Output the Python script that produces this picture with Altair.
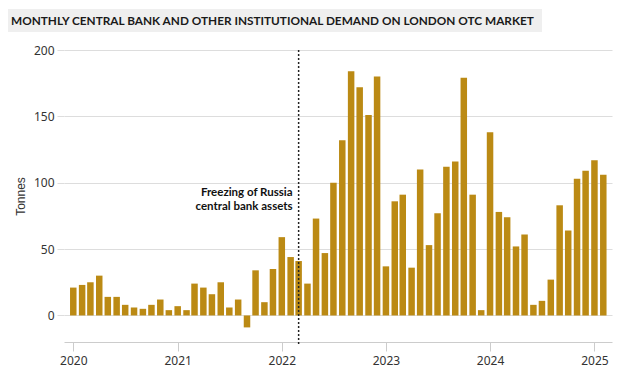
import altair as alt
import pandas as pd

# Monthly demand (tonnes), Jan 2020 .. Feb 2025
months = pd.date_range("2020-01-01", "2025-02-01", freq="MS").strftime("%Y-%m-%dT00:00:00").tolist()
values = [
    21, 23, 25, 30, 14, 14, 8, 6, 5, 8, 12, 4,          # 2020
    7, 4, 24, 21, 16, 25, 6, 12, -9, 34, 10, 35,        # 2021
    59, 44, 41, 24, 73, 47, 100, 132, 184, 172, 151, 180,  # 2022
    37, 86, 91, 36, 110, 53, 77, 112, 116, 179, 91, 4,  # 2023
    138, 78, 74, 52, 61, 8, 11, 27, 83, 64, 103, 109,   # 2024
    117, 106,                                           # 2025
]
year_ticks = [2020, 2021, 2022, 2023, 2024, 2025]
y_ticks = [0, 50, 100, 150, 200]
event_date = ["2022-03-01T00:00:00"]
event_label = [["Freezing of Russia", "central bank assets"]]
event_y = [92]
title_text = "MONTHLY CENTRAL BANK AND OTHER INSTITUTIONAL DEMAND ON LONDON OTC MARKET"

df = pd.DataFrame({"date": months, "value": values})
ev = pd.DataFrame({"date": event_date, "label": event_label, "y": event_y})
tdf = pd.DataFrame({"t": [title_text]})

BAR = "#BB8A14"
LABEL = "#333333"
GRID = "#dddddd"

xscale = alt.Scale(domain=[alt.DateTime(year=2019, month=12, date=17),
                           alt.DateTime(year=2025, month=2, date=14)])
yscale = alt.Scale(domain=[-20, 200], nice=False)

xaxis = alt.Axis(
    values=[alt.DateTime(year=y, month=1, date=1) for y in year_ticks],
    format="%Y", title=None, grid=False,
    domainColor="#cccccc", tickColor="#cccccc", tickSize=9, labelPadding=4,
    labelFont="Noto Sans", labelFontSize=12, labelColor=LABEL,
)
yaxis = alt.Axis(
    values=y_ticks, title="Tonnes", grid=True, gridColor=GRID, domain=False,
    tickColor=GRID, tickSize=7, labelPadding=3,
    labelFont="Noto Sans", labelFontSize=12, labelColor=LABEL,
    titleFont="Liberation Sans", titleFontWeight="normal", titleFontSize=12,
    titleColor=LABEL, titleAngle=-90, titleX=-44, titleY=146,
    titleAlign="center", titleBaseline="middle",
)

bars = alt.Chart(df).mark_bar(color=BAR, size=6.5).encode(
    x=alt.X("date:T", scale=xscale, axis=xaxis),
    y=alt.Y("value:Q", scale=yscale, axis=yaxis),
)

rule = alt.Chart(ev).mark_rule(color="#222222", strokeDash=[2, 2], strokeWidth=1.5).encode(
    x=alt.X("date:T", scale=xscale),
    y=alt.value(0),
    y2=alt.value(294),
)

ann = alt.Chart(ev).mark_text(
    align="right", baseline="middle", dx=-6, font="Lato", fontWeight="bold",
    fontSize=11.5, lineHeight=14, color="#111111",
).encode(
    x=alt.X("date:T", scale=xscale),
    y=alt.Y("y:Q", scale=yscale),
    text="label",
)

title_box = alt.Chart(tdf).mark_rect(color="#efefef").encode(
    x=alt.value(-56), x2=alt.value(478), y=alt.value(-41), y2=alt.value(-18),
)
title = alt.Chart(tdf).mark_text(
    align="left", baseline="middle", font="Lato", fontWeight="bold",
    fontSize=11.8, color="#1a1a1a",
).encode(x=alt.value(-53), y=alt.value(-29.5), text="t:N")

chart = alt.layer(title_box, title, bars, rule, ann).properties(
    width=548, height=292,
    autosize=alt.AutoSizeParams(type="none"),
    padding={"left": 56, "top": 42, "right": 12, "bottom": 25},
).configure_view(stroke=None)

chart.save("out.html", embed_options={"renderer": "svg", "actions": False})
